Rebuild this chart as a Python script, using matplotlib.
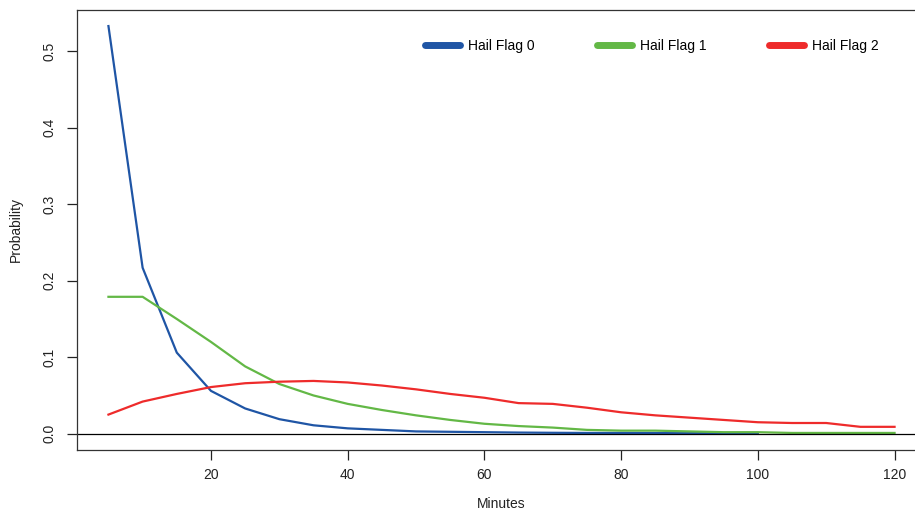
import matplotlib.pyplot as plt
from matplotlib.lines import Line2D

plt.rcParams['font.family'] = ['Liberation Sans', 'DejaVu Sans']

minutes = list(range(5, 125, 5))

flag0 = [0.533, 0.217, 0.106, 0.056, 0.033, 0.019, 0.011, 0.007, 0.005, 0.003,
         0.0025, 0.002, 0.0015, 0.0012, 0.001, 0.001, 0.0008, 0.0007, 0.0006, 0.0005]
flag1 = [0.179, 0.179, 0.150, 0.120, 0.088, 0.065, 0.050, 0.039, 0.031, 0.024,
         0.018, 0.013, 0.010, 0.008, 0.005, 0.004, 0.004, 0.003, 0.002, 0.002,
         0.001, 0.001, 0.001, 0.001]
flag2 = [0.025, 0.042, 0.052, 0.061, 0.066, 0.068, 0.069, 0.067, 0.063, 0.058,
         0.052, 0.047, 0.040, 0.039, 0.034, 0.028, 0.024, 0.021, 0.018, 0.015,
         0.014, 0.014, 0.009, 0.009]

labels = ['Hail Flag 0', 'Hail Flag 1', 'Hail Flag 2']
colors = ['#1f55a5', '#63b846', '#ee2b2b']

fig = plt.figure(figsize=(9.15, 5.17), dpi=100)
ax = fig.add_axes([77 / 915, 67 / 517, 849 / 915, 440 / 517])

ax.plot(minutes[:len(flag0)], flag0, color=colors[0], lw=1.6)
ax.plot(minutes, flag1, color=colors[1], lw=1.6)
ax.plot(minutes, flag2, color=colors[2], lw=1.6)
ax.axhline(0, color='black', lw=0.9)

ax.set_xlim(0.4, 124.6)
ax.set_ylim(-0.0213, 0.554)
ax.set_xticks([20, 40, 60, 80, 100, 120])
ax.set_yticks([0.0, 0.1, 0.2, 0.3, 0.4, 0.5])
ax.set_yticklabels(['0.0', '0.1', '0.2', '0.3', '0.4', '0.5'], rotation=90, va='center')
ax.tick_params(direction='out', length=7, width=0.9, labelsize=10, colors='#222222')
ax.tick_params(axis='x', pad=6)
ax.tick_params(axis='y', pad=8)

for s in ax.spines.values():
    s.set_linewidth(0.9)
    s.set_color('#333333')

ax.set_xlabel('Minutes', fontsize=10, labelpad=11, color='#222222')
ax.set_ylabel('Probability', fontsize=10, labelpad=14, color='#222222')

handles = [Line2D([], [], color=c, lw=5, solid_capstyle='round') for c in colors]
ax.legend(handles, labels, ncol=3, frameon=False, fontsize=10,
          loc='upper left', bbox_to_anchor=(0.395, 0.963),
          handlelength=2.5, handletextpad=0.6, columnspacing=4.5)

fig.savefig('out.png', dpi=100)
